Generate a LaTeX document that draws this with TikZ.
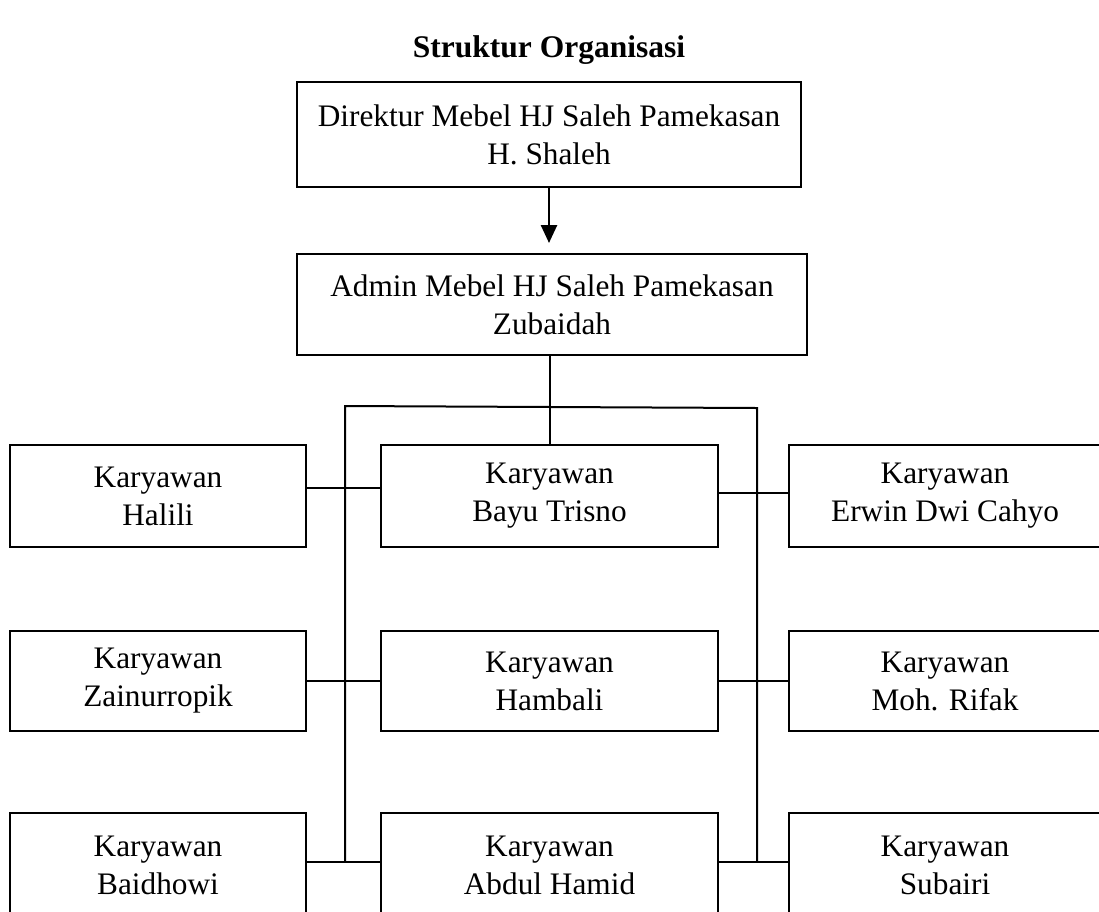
\documentclass[tikz,border=0pt]{standalone}
\usepackage{fontspec}
\setmainfont{Liberation Serif}
\usetikzlibrary{arrows.meta}
\begin{document}
\begin{tikzpicture}[x=1pt,y=-1pt,
  box/.style={draw,line width=2pt,inner sep=0pt,align=center,
    font=\fontsize{31.3pt}{38pt}\selectfont},
  conn/.style={line width=2pt},
  arrowline/.style={line width=2.6pt,-{Triangle[length=18pt,width=16pt]}}]
\fill[white] (0,0) rectangle (1099,911);
\useasboundingbox (0,0) rectangle (1099,911);
\node[font=\bfseries\fontsize{31.5pt}{38pt}\selectfont] (title) at (549,50) {Struktur Organisasi};
\node[box,minimum width=504pt,minimum height=105pt] (dir) at (549,134.5) {Direktur Mebel HJ Saleh Pamekasan\\H. Shaleh};
\node[box,minimum width=510pt,minimum height=101pt] (adm) at (552,304.5) {Admin Mebel HJ Saleh Pamekasan\\Zubaidah};
% row 1
\node[box,minimum width=296pt,minimum height=102pt] (hal) at (158,496) {Karyawan\\Halili};
\node[box,minimum width=337pt,minimum height=102pt] (bay) at (549.5,496) {Karyawan\\Bayu Trisno};
\node[box,minimum width=312pt,minimum height=102pt] (erw) at (945,496) {Karyawan\\Erwin Dwi Cahyo};
% row 2
\node[box,minimum width=296pt,minimum height=100pt] (zai) at (158,681) {Karyawan\\Zainurropik};
\node[box,minimum width=337pt,minimum height=100pt] (ham) at (549.5,681) {Karyawan\\Hambali};
\node[box,minimum width=312pt,minimum height=100pt] (rif) at (945,681) {Karyawan\\Moh. Rifak};
% row 3
\node[box,minimum width=296pt,minimum height=104pt] (bai) at (158,865) {Karyawan\\Baidhowi};
\node[box,minimum width=337pt,minimum height=104pt] (abd) at (549.5,865) {Karyawan\\Abdul Hamid};
\node[box,minimum width=312pt,minimum height=104pt] (sub) at (945,865) {Karyawan\\Subairi};
% arrow
\draw[arrowline] (dir.south) -- ([yshift=10pt]adm.north -| dir.south);
% trunk
\draw[conn] (bay.north) -- (bay.north |- adm.south);
% bus
\coordinate (busL) at (345,406);
\coordinate (busR) at (757,408);
\coordinate (botL) at (345,862);
\coordinate (botR) at (757,862);
\draw[conn] (botL) -- (busL) -- (busR) -- (botR);
% row connectors
\draw[conn] ([yshift=8pt]hal.east) -- ([yshift=8pt]bay.west);
\draw[conn] ([yshift=3pt]bay.east) -- ([yshift=3pt]erw.west);
\draw[conn] (zai.east) -- (ham.west);
\draw[conn] (ham.east) -- (rif.west);
\draw[conn] ([yshift=3pt]bai.east) -- ([yshift=3pt]abd.west);
\draw[conn] ([yshift=3pt]abd.east) -- ([yshift=3pt]sub.west);
\end{tikzpicture}
\end{document}
